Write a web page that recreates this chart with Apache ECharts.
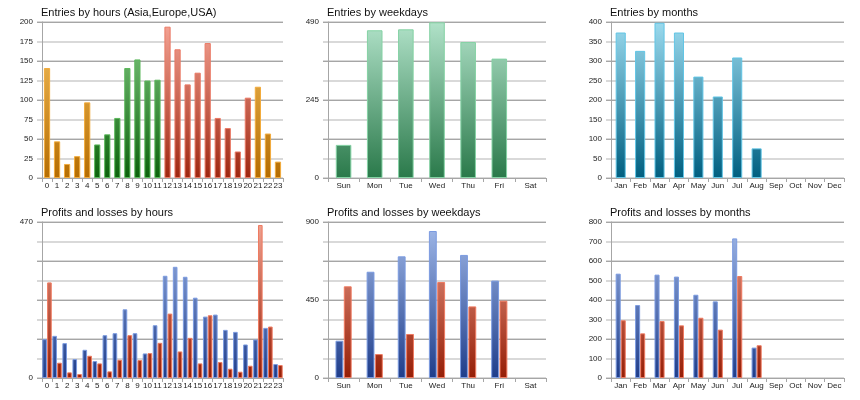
<!DOCTYPE html>
<html>
<head>
<meta charset="utf-8">
<script src="https://cdn.jsdelivr.net/npm/echarts@6/dist/echarts.min.js"></script>
<style>
html, body { margin: 0; padding: 0; background: #fff; }
#main { width: 860px; height: 400px; }
</style>
</head>
<body>
<div id="main"></div>
<script>
// data
var hours = ['0','1','2','3','4','5','6','7','8','9','10','11','12','13','14','15','16','17','18','19','20','21','22','23'];
var hourRegions = ['Asia','Asia','Asia','Asia','Asia','Europe','Europe','Europe','Europe','Europe','Europe','Europe',
	'USA','USA','USA','USA','USA','USA','USA','USA','USA','Asia','Asia','Asia'];
var hourEntries = [141, 47, 18, 28, 97, 43, 56, 77, 141, 152, 125, 126, 194, 165, 120, 135, 173, 77, 64, 34, 103, 117, 57, 21];
var hourProfits = [117, 127, 105, 57, 85, 51, 129, 135, 207, 135, 74, 159, 308, 335, 305, 242, 185, 191, 145, 139, 101, 116, 151, 42];
var hourLosses = [288, 46, 17, 12, 67, 44, 20, 55, 129, 54, 75, 106, 194, 80, 121, 44, 189, 48, 28, 19, 37, 461, 155, 39];

var weekdays = ['Sun', 'Mon', 'Tue', 'Wed', 'Thu', 'Fri', 'Sat'];
var weekdayEntries = [104, 464, 467, 489, 427, 375, 0];
var weekdayProfits = [215, 613, 702, 848, 710, 562, 0];
var weekdayLosses = [529, 138, 254, 554, 413, 446, 0];

var months = ['Jan', 'Feb', 'Mar', 'Apr', 'May', 'Jun', 'Jul', 'Aug', 'Sep', 'Oct', 'Nov', 'Dec'];
var monthEntries = [373, 326, 398, 373, 260, 209, 309, 76, 0, 0, 0, 0];
var monthProfits = [535, 374, 530, 520, 427, 393, 716, 156, 0, 0, 0, 0];
var monthLosses = [296, 229, 292, 270, 309, 248, 523, 168, 0, 0, 0, 0];

var titles = ['Entries by hours (Asia,Europe,USA)', 'Profits and losses by hours',
	'Entries by weekdays', 'Profits and losses by weekdays',
	'Entries by months', 'Profits and losses by months'];

var myChart = echarts.init(document.getElementById('main'));

var FONT = 'Liberation Sans';
var DARK = '#a6a6a6';
var LIGHT = '#d9d9d9';

// grid boxes: [left, top, width, height]
var boxes = [
	[42, 22, 241, 156], [42, 222, 241, 156],
	[328, 22, 218, 156], [328, 222, 218, 156],
	[611, 22, 233, 156], [611, 222, 233, 156]
];
// y scale per grid: max, minor step, label step
var scales = [
	[200, 25, 25], [470, 58.75, 470],
	[490, 61.25, 245], [900, 112.5, 450],
	[400, 50, 50], [800, 100, 100]
];
var cats = [hours, hours, weekdays, weekdays, months, months];

function grad(top, bottom, box) {
	return new echarts.graphic.LinearGradient(0, box[1], 0, box[1] + box[3], [
		{ offset: 0, color: top },
		{ offset: 1, color: bottom }
	], true);
}

var palette = {
	Asia: ['#f7c463', '#b56c00', '#f2ab3c'],
	Europe: ['#86cc86', '#0b620b', '#5cb85c'],
	USA: ['#f5a495', '#9e2610', '#ea7a66'],
	profit: ['#a3bbea', '#1f3d8a', '#7b9be0'],
	loss: ['#efa392', '#951e06', '#ef7a60'],
	week: ['#b1e2c9', '#2a794a', '#84d2a4'],
	month: ['#9bdaee', '#005f80', '#62c5e5']
};

function style(name, box) {
	var p = palette[name];
	return { color: grad(p[0], p[1], box), borderColor: p[2], borderWidth: 1 };
}

function clean(arr) {
	return arr.map(function (v) { return v === 0 ? '-' : v; });
}

var grid = [], xAxis = [], yAxis = [], title = [];
boxes.forEach(function (b, i) {
	grid.push({ left: b[0], top: b[1], width: b[2], height: b[3] });
	title.push({
		text: titles[i], left: b[0] - 1, top: b[1] - 15, padding: 0,
		textStyle: { fontFamily: FONT, fontSize: 11, fontWeight: 'normal', color: '#111' }
	});
	xAxis.push({
		type: 'category', gridIndex: i, data: cats[i],
		axisLine: { lineStyle: { color: DARK } },
		axisTick: { show: true, length: 4, lineStyle: { color: DARK } },
		axisLabel: { interval: 0, margin: 4, fontFamily: FONT, fontSize: 8, color: '#222' }
	});
	var s = scales[i];
	// light (minor) lines with labels
	yAxis.push({
		type: 'value', gridIndex: i, min: 0, max: s[0], interval: s[1], position: 'left',
		axisLine: { show: true, lineStyle: { color: DARK } },
		axisTick: { show: true, length: 5, lineStyle: { color: LIGHT, width: 2 } },
		splitLine: { lineStyle: { color: LIGHT, width: 2 } },
		axisLabel: {
			margin: 9, fontFamily: FONT, fontSize: 8, color: '#222',
			formatter: (function (step) {
				return function (v) { return Math.abs(v / step - Math.round(v / step)) < 1e-6 ? String(Math.round(v)) : ''; };
			})(s[2])
		}
	});
	// dark (major) lines
	yAxis.push({
		type: 'value', gridIndex: i, min: 0, max: s[0], interval: s[1] * 2, position: 'left',
		axisLine: { show: false },
		axisTick: { show: true, length: 5, lineStyle: { color: DARK } },
		splitLine: { lineStyle: { color: DARK, width: 1 } },
		axisLabel: { show: false }
	});
});

var series = [
	{
		type: 'bar', xAxisIndex: 0, yAxisIndex: 0, barWidth: '62%',
		data: hourEntries.map(function (v, k) {
			return { value: v, itemStyle: style(hourRegions[k], boxes[0]) };
		})
	},
	{ type: 'bar', xAxisIndex: 1, yAxisIndex: 2, barGap: '4%', barCategoryGap: '6%', itemStyle: style('profit', boxes[1]), data: clean(hourProfits) },
	{ type: 'bar', xAxisIndex: 1, yAxisIndex: 2, itemStyle: style('loss', boxes[1]), data: clean(hourLosses) },
	{ type: 'bar', xAxisIndex: 2, yAxisIndex: 4, barWidth: '50%', itemStyle: style('week', boxes[2]), data: clean(weekdayEntries) },
	{ type: 'bar', xAxisIndex: 3, yAxisIndex: 6, barGap: '6%', barCategoryGap: '48%', itemStyle: style('profit', boxes[3]), data: clean(weekdayProfits) },
	{ type: 'bar', xAxisIndex: 3, yAxisIndex: 6, itemStyle: style('loss', boxes[3]), data: clean(weekdayLosses) },
	{ type: 'bar', xAxisIndex: 4, yAxisIndex: 8, barWidth: '52%', itemStyle: style('month', boxes[4]), data: clean(monthEntries) },
	{ type: 'bar', xAxisIndex: 5, yAxisIndex: 10, barGap: '0%', barCategoryGap: '48%', itemStyle: style('profit', boxes[5]), data: clean(monthProfits) },
	{ type: 'bar', xAxisIndex: 5, yAxisIndex: 10, itemStyle: style('loss', boxes[5]), data: clean(monthLosses) }
];

option = {
	backgroundColor: '#fff',
	animation: false,
	title: title,
	grid: grid,
	xAxis: xAxis,
	yAxis: yAxis,
	series: series
};

myChart.setOption(option);
</script>
</body>
</html>
